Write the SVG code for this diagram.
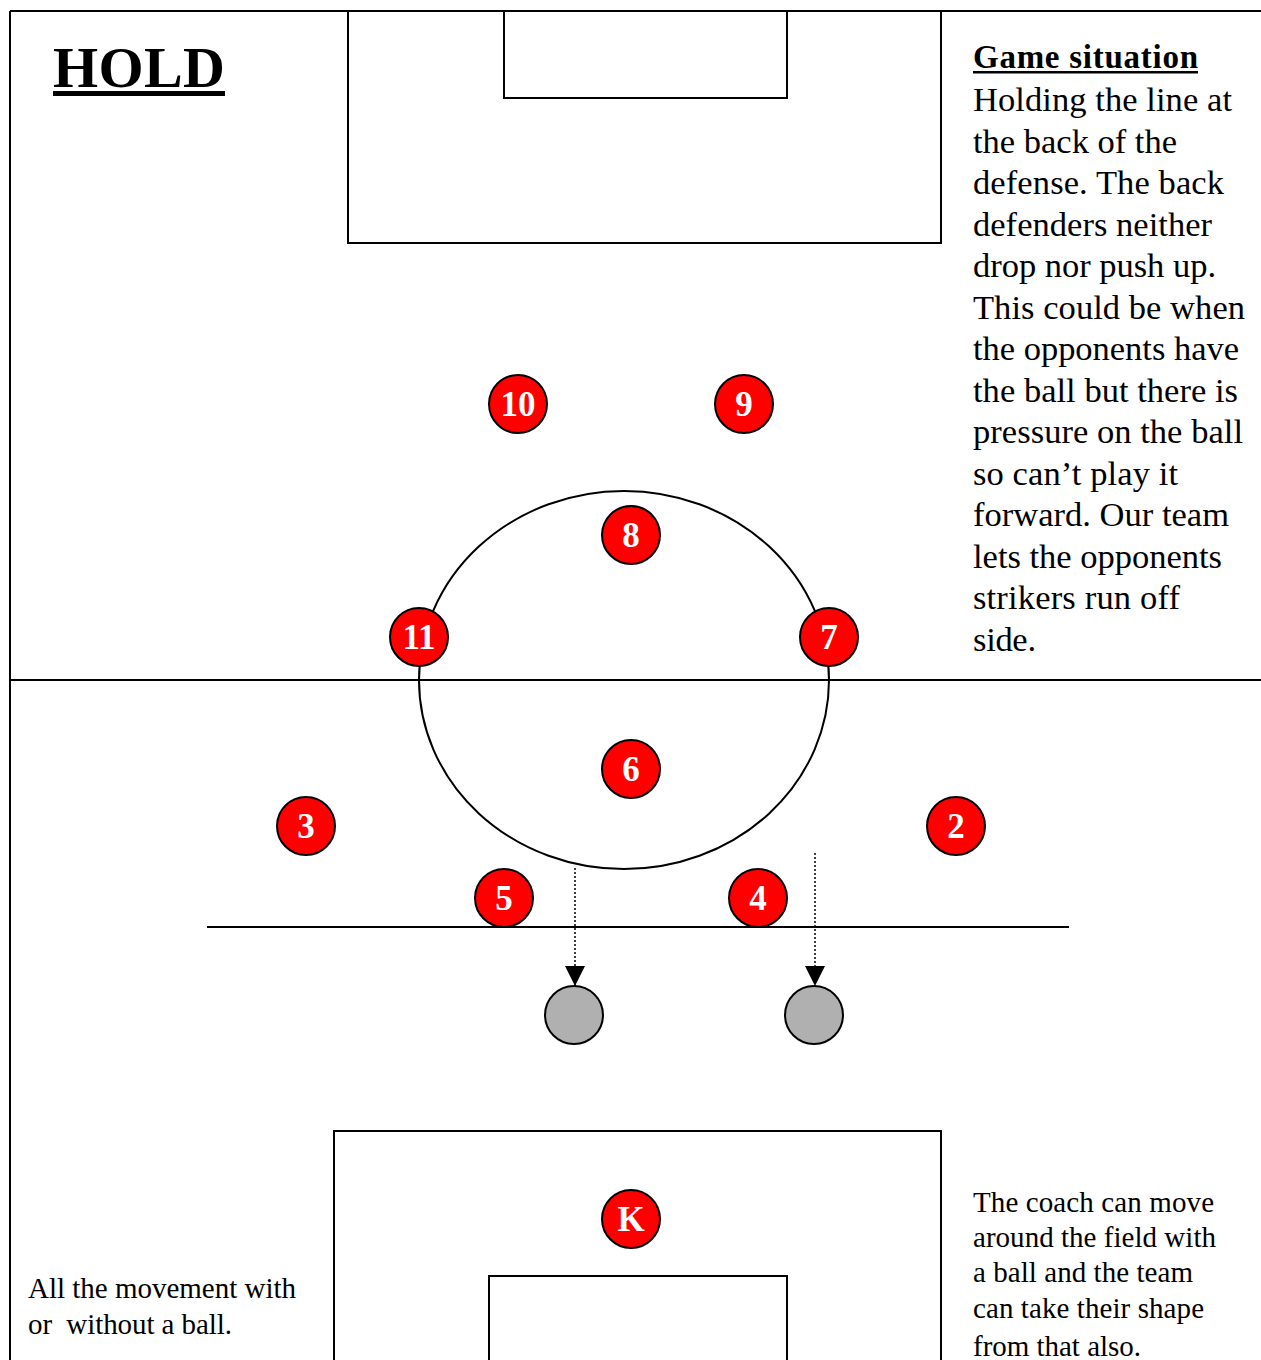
<svg xmlns="http://www.w3.org/2000/svg" width="1261" height="1360" viewBox="0 0 1261 1360">
<defs>
<style>
.ln{fill:none;stroke:#000;stroke-width:2}
.pl{fill:#ff0000;stroke:#000;stroke-width:2}
.pt{font-family:"Liberation Serif",serif;font-weight:bold;font-size:35px;fill:#fff;text-anchor:middle}
.ball{fill:#b0b0b0;stroke:#000;stroke-width:2}
.tx{font-family:"Liberation Serif",serif;fill:#000}
</style>
<marker id="ah" markerWidth="20" markerHeight="20" refX="20" refY="10" orient="auto" markerUnits="userSpaceOnUse" viewBox="0 0 20 20">
<path d="M0,0 L20,10 L0,20 Z" fill="#000"/>
</marker>
</defs>
<rect width="1261" height="1360" fill="#fff"/>
<g id="field">
<line class="ln" x1="10" y1="11" x2="1261" y2="11"/>
<line class="ln" x1="10" y1="11" x2="10" y2="1360"/>
<line class="ln" x1="10" y1="680" x2="1261" y2="680"/>
<rect class="ln" x="348" y="11" width="593" height="232"/>
<rect class="ln" x="504" y="11" width="283" height="87"/>
<ellipse class="ln" cx="624" cy="680" rx="205" ry="189"/>
<line class="ln" x1="207" y1="927" x2="1069" y2="927"/>
<path class="ln" d="M334,1360 V1131 H941 V1360"/>
<path class="ln" d="M489,1360 V1276 H787 V1360"/>
</g>
<g id="connectors">
<line x1="575" y1="868" x2="575" y2="986" stroke="#000" stroke-width="1.5" stroke-dasharray="2,2" marker-end="url(#ah)"/>
<line x1="815" y1="853" x2="815" y2="986" stroke="#000" stroke-width="1.5" stroke-dasharray="2,2" marker-end="url(#ah)"/>
</g>
<g id="p10"><circle class="pl" cx="518" cy="404" r="29"/><text class="pt" x="518" y="416">10</text></g>
<g id="p9"><circle class="pl" cx="744" cy="404" r="29"/><text class="pt" x="744" y="416">9</text></g>
<g id="p8"><circle class="pl" cx="631" cy="535" r="29"/><text class="pt" x="631" y="547">8</text></g>
<g id="p11"><circle class="pl" cx="419" cy="637" r="29"/><text class="pt" x="419" y="649">11</text></g>
<g id="p7"><circle class="pl" cx="829" cy="637" r="29"/><text class="pt" x="829" y="649">7</text></g>
<g id="p6"><circle class="pl" cx="631" cy="769" r="29"/><text class="pt" x="631" y="781">6</text></g>
<g id="p3"><circle class="pl" cx="306" cy="826" r="29"/><text class="pt" x="306" y="838">3</text></g>
<g id="p2"><circle class="pl" cx="956" cy="826" r="29"/><text class="pt" x="956" y="838">2</text></g>
<g id="p5"><circle class="pl" cx="504" cy="898" r="29"/><text class="pt" x="504" y="910">5</text></g>
<g id="p4"><circle class="pl" cx="758" cy="898" r="29"/><text class="pt" x="758" y="910">4</text></g>
<g id="pK"><circle class="pl" cx="631" cy="1219" r="29"/><text class="pt" x="631" y="1231">K</text></g>
<g id="ball1"><circle class="ball" cx="574" cy="1015" r="29"/></g>
<g id="ball2"><circle class="ball" cx="814" cy="1015" r="29"/></g>
<g id="title">
<text class="tx" x="53" y="87" font-size="58" font-weight="bold" textLength="172">HOLD</text>
<rect x="53" y="91" width="172" height="5" fill="#000"/>
</g>
<g id="desc" class="tx" font-size="34.5">
<text x="973" y="68" font-weight="bold" font-size="33" textLength="225">Game situation</text>
<rect x="973" y="71" width="225" height="2.5" fill="#000"/>
<text x="973" y="111" textLength="259">Holding the line at</text>
<text x="973" y="152.5" textLength="204">the back of the</text>
<text x="973" y="194" textLength="251">defense. The back</text>
<text x="973" y="235.5" textLength="239">defenders neither</text>
<text x="973" y="277" textLength="243">drop nor push up.</text>
<text x="973" y="318.5" textLength="272">This could be when</text>
<text x="973" y="360" textLength="266">the opponents have</text>
<text x="973" y="401.5" textLength="265">the ball but there is</text>
<text x="973" y="443" textLength="270">pressure on the ball</text>
<text x="973" y="484.5" textLength="205">so can’t play it</text>
<text x="973" y="526" textLength="256">forward. Our team</text>
<text x="973" y="567.5" textLength="249">lets the opponents</text>
<text x="973" y="609" textLength="207">strikers run off</text>
<text x="973" y="650.5" textLength="63">side.</text>
</g>
<g id="coach" class="tx" font-size="29">
<text x="973" y="1212" textLength="241">The coach can move</text>
<text x="973" y="1247" textLength="243">around the field with</text>
<text x="973" y="1282" textLength="220">a ball and the team</text>
<text x="973" y="1318" textLength="231">can take their shape</text>
<text x="973" y="1356" textLength="168">from that also.</text>
</g>
<g id="movement" class="tx" font-size="29">
<text x="28" y="1298" textLength="268">All the movement with</text>
<text x="28" y="1334" textLength="204" xml:space="preserve">or  without a ball.</text>
</g>
</svg>
